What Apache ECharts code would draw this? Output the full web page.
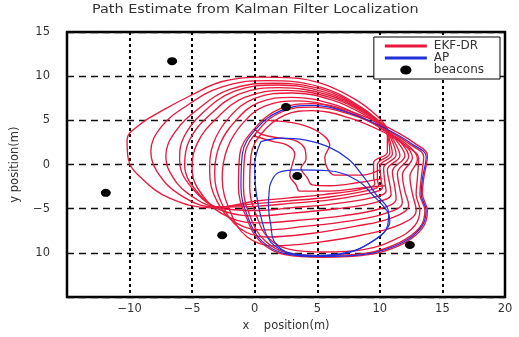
<!DOCTYPE html>
<html>
<head>
<meta charset="utf-8">
<script src="https://cdn.jsdelivr.net/npm/echarts@6/dist/echarts.min.js"></script>
<style>
  html, body { margin: 0; padding: 0; background: #fff; }
  #chart { width: 519px; height: 337px; }
</style>
</head>
<body>
<div id="chart"></div>
<script>
// EKF-DR estimated paths (x, y in metres)
const ekfBand1 = [[10.4,3.6],[12.2,2.0],[13.1,0.7],[13.0,-1.5],[12.9,-3.4],[13.2,-5.1],[12.8,-6.9],[11.3,-8.4],[8.8,-9.6],[5.5,-9.9],[2.8,-9.6],[1.1,-8.3],[0.2,-6],[-0.4,-2.5],[-0.3,1],[0.6,3.6],[2.4,5.6],[4.6,6.1],[7.5,5.3],[10.4,3.6]];
const ekfBand2 = [[10.6,3.9],[12.5,2.2],[13.5,0.9],[13.3,-1.6],[13.2,-3.4],[13.6,-5.2],[13.2,-7.1],[11.6,-8.8],[9,-10],[5.5,-10.3],[2.6,-10],[0.8,-8.6],[-0.3,-6.1],[-0.9,-2.5],[-0.8,1],[0.3,3.9],[2.2,6],[4.6,6.5],[7.6,5.7],[10.6,3.9]];
const ekfBand3 = [[10.8,4.1],[12.8,2.4],[13.8,1.0],[13.5,-1.6],[13.4,-3.3],[13.8,-5.2],[13.4,-7.2],[11.8,-9.0],[9.1,-10.2],[5.4,-10.5],[2.4,-10.2],[0.5,-8.8],[-0.6,-6.2],[-1.3,-2.5],[-1.2,1.1],[0,4.1],[2,6.3],[4.6,6.9],[7.7,6.0],[10.8,4.1]];
const ekfLoop1 = [[10.4,3.8],[12.3,2.1],[13.0,0.6],[12.4,-1.4],[12.6,-3.3],[12.9,-5.2],[11.6,-6.8],[8.5,-8.0],[5,-8.8],[1.5,-9.2],[-0.6,-8.2],[-1.9,-5.5],[-2.6,-1.5],[-2.2,1.8],[-1.0,4.6],[0.8,6.6],[3.5,7.2],[6.5,6.4],[9,5],[10.4,3.8]];
const ekfLoop2 = [[10.3,3.9],[12.0,2.2],[12.6,0.8],[11.8,-1.2],[12.0,-3.0],[12.3,-4.6],[11.0,-6.0],[8,-7.0],[4.5,-7.8],[1,-8.2],[-1.2,-7.2],[-2.6,-4.5],[-3.2,-1.0],[-2.8,2.2],[-1.5,5],[0.3,7.0],[3,7.6],[6.3,6.8],[8.8,5.2],[10.3,3.9]];
const ekfLoop3 = [[10.4,4.0],[11.8,2.3],[12.3,0.9],[11.4,-1.0],[11.6,-2.8],[11.8,-4.3],[10.5,-5.5],[7.5,-6.4],[4,-7.0],[0.8,-7.4],[-1.5,-6.6],[-3.0,-4.2],[-3.6,-0.8],[-3.3,2.4],[-2,5.4],[0,7.5],[3,8.1],[6.2,7.3],[8.8,5.6],[10.4,4.0]];
const ekfLoop4 = [[10.5,4.0],[11.5,2.4],[12.0,1.0],[11.0,-0.8],[11.2,-2.6],[11.3,-3.9],[10,-5.0],[7,-5.8],[3.5,-6.3],[0.5,-6.6],[-2,-6.0],[-4,-3.8],[-5.0,-0.5],[-4.6,2.4],[-3,5.3],[-0.8,7.6],[2.5,8.4],[6,7.6],[8.8,5.8],[10.5,4.0]];
const ekfLoop5 = [[10.5,4.1],[11.2,2.5],[11.6,1.0],[10.6,-0.6],[10.8,-2.3],[10.9,-3.4],[9.6,-4.3],[6.5,-5.0],[3,-5.5],[0.3,-5.8],[-2.2,-5.4],[-4.4,-3.4],[-5.6,0.0],[-5.2,2.8],[-3.6,5.6],[-1.2,8.0],[2,8.7],[5.8,7.9],[8.7,6.0],[10.5,4.1]];
const ekfLoop6 = [[10.4,4.2],[11.0,2.6],[11.3,1.1],[10.3,-0.4],[10.4,-2.0],[10.5,-3.0],[9.2,-3.8],[6,-4.5],[2.8,-4.9],[0.3,-5.2],[-2.5,-5.0],[-4.8,-3.0],[-6.0,0.5],[-5.7,3.0],[-4.2,5.8],[-1.6,8.3],[1.8,9.0],[5.6,8.2],[8.6,6.2],[10.4,4.2]];
const ekfLoop7 = [[10.5,4.2],[10.8,2.7],[11.0,1.2],[10.0,-0.2],[10.1,-1.8],[10.2,-2.6],[9,-3.3],[6,-4.0],[2.8,-4.4],[0.3,-4.7],[-2.8,-4.8],[-5.4,-3.2],[-6.8,-0.8],[-7.1,1.0],[-6.4,3.6],[-4.6,6.2],[-2,8.5],[1.5,9.2],[5.4,8.5],[8.5,6.4],[10.5,4.2]];
const ekfLoop8 = [[10.4,4.3],[10.7,2.8],[10.8,1.3],[9.8,0.0],[9.8,-1.6],[9.9,-2.4],[8.8,-3.0],[5.8,-3.7],[2.8,-4.1],[0.3,-4.4],[-3.2,-4.8],[-6,-3.4],[-7.8,-0.8],[-8.3,1.5],[-7.5,4.2],[-5.5,6.6],[-2.6,8.8],[1,9.5],[5.2,8.8],[8.4,6.6],[10.4,4.3]];
const ekfLoop9 = [[10.6,4.1],[10.6,2.8],[10.6,1.4],[9.5,0.2],[9.5,-1.4],[9.6,-2.2],[8.5,-2.8],[5.5,-3.4],[2.6,-3.8],[0.3,-4.1],[-3.5,-4.9],[-6.8,-3.8],[-9,-1.6],[-10.1,0.6],[-10.2,2.8],[-9.3,4.4],[-7.4,6.1],[-5,7.9],[-2.6,9.4],[0.5,9.9],[3,9.8],[5.5,9.1],[8,7.4],[9.7,5.6],[10.6,4.1]];
const ekfInner1 = [[0.0,4.0],[0.6,3.4],[2,3.0],[3.1,2.8],[4.0,1.8],[4.1,0.6],[3.7,-0.4],[4.2,-1.5],[4.6,-2.3],[6,-2.4],[8.5,-2.0],[10.2,-1.6]];
const ekfInner2 = [[0.0,3.2],[1.5,2.6],[2.6,2.2],[3.2,1.2],[3.0,0.0],[2.8,-1.2],[3.3,-2.3],[3.6,-3.0],[6,-3.0],[8.8,-2.6],[10.4,-2.4]];
const ekfInner3 = [[1,5.0],[3.5,4.6],[5.2,3.6],[6.0,2.2],[5.6,0.8],[5.8,-0.4],[6.4,-1.2],[8.5,-1.2],[10,-0.6]];

// AP paths
const apLoop1 = [[10.7,3.9],[12.6,2.3],[13.7,0.9],[13.4,-1.6],[13.3,-3.4],[13.7,-5.2],[13.3,-7.1],[11.7,-8.9],[9,-10.1],[5.4,-10.4],[2.5,-10.1],[0.6,-8.7],[-0.5,-6.1],[-1.1,-2.5],[-1.0,1.1],[0.1,4.0],[2.1,6.1],[4.6,6.7],[7.6,5.8],[10.7,3.9]];
const apLoop2 = [[0.5,2.6],[2.1,3.0],[4.0,2.8],[5.9,2.0],[7.5,0.6],[8.6,-1.2],[9.6,-3.2],[10.7,-5.5],[10.6,-7.0],[9.5,-8.6],[7.8,-9.8],[5.0,-10.3],[2.8,-10.0],[1.3,-8.8],[0.6,-6.5],[0.1,-3.0],[0.0,0.0],[0.5,2.6]];
const apLoop3 = [[1.2,-2.4],[1.9,-0.9],[3.4,-0.6],[5.9,-0.7],[8.2,-1.8],[9.4,-3.4],[10.6,-5.3],[10.8,-6.4],[10.4,-7.6],[9.3,-8.8],[7.7,-9.9],[5.1,-10.4],[2.9,-10.1],[1.6,-8.8],[1.3,-7.0],[1.1,-4.5],[1.2,-2.4]];

// beacon positions
const beacons = [[-6.6,11.7],[2.5,6.5],[3.4,-1.3],[-11.9,-3.2],[-2.6,-8.0],[12.4,-9.1]];

const ekfPaths = [ekfLoop9, ekfLoop8, ekfLoop7, ekfLoop6, ekfLoop5, ekfLoop4, ekfLoop3, ekfLoop2, ekfLoop1,
                  ekfInner1, ekfInner2, ekfInner3, ekfBand1, ekfBand2, ekfBand3];
const apPaths = [apLoop1, apLoop2, apLoop3];

const RED = '#e8193c';
const BLUE = '#2230d8';
const font = 'DejaVu Sans';

const chart = echarts.init(document.getElementById('chart'), null, { renderer: 'canvas' });

const series = [];
ekfPaths.forEach(function (p) {
    series.push({
        name: 'EKF-DR', type: 'line', data: p, smooth: 0.4, showSymbol: false, symbol: 'none',
        lineStyle: { color: RED, width: 1.35 }, itemStyle: { color: RED }, z: 2
    });
});
apPaths.forEach(function (p) {
    series.push({
        name: 'AP', type: 'line', data: p, smooth: 0.4, showSymbol: false, symbol: 'none',
        lineStyle: { color: BLUE, width: 1.2 }, itemStyle: { color: BLUE }, z: 3
    });
});
series.push({
    name: 'beacons', type: 'scatter', data: beacons,
    symbol: 'path://M-5,0a5,4 0 1,0 10,0a5,4 0 1,0 -10,0z', symbolSize: [10, 8], symbolKeepAspect: false,
    itemStyle: { color: '#000', opacity: 1 }, z: 5
});

const minus = function (v) { return String(v).replace('-', '\u2212'); };

chart.setOption({
    backgroundColor: '#fff',
    animation: false,
    graphic: [{
        type: 'text', left: 92, top: 4, scaleX: 1.2,
        style: { text: 'Path Estimate from Kalman Filter Localization', font: '12px "DejaVu Sans"', fill: '#333' }
    }],
    legend: {
        orient: 'vertical', right: 19, top: 37,
        backgroundColor: '#fff', borderColor: '#000', borderWidth: 1, borderRadius: 0,
        padding: [3, 16, 3, 11], itemGap: 0, itemWidth: 42, itemHeight: 9,
        textStyle: { fontFamily: font, fontSize: 12, lineHeight: 12, color: '#333', padding: [0, 0, 0, 2] },
        data: [
            { name: 'EKF-DR', icon: 'path://M0,0H42V3H0Z' },
            { name: 'AP', icon: 'path://M0,0H42V3H0Z' },
            { name: 'beacons' }
        ]
    },
    grid: {
        left: 67, right: 14, top: 32, bottom: 37,
        show: true, borderColor: '#000', borderWidth: 2.5, backgroundColor: 'transparent'
    },
    xAxis: {
        type: 'value', min: -15, max: 20, interval: 5,
        name: 'x    position(m)', nameLocation: 'middle', nameGap: 20,
        nameTextStyle: { fontFamily: font, fontSize: 11.5, color: '#333' },
        axisLine: { show: false }, axisTick: { show: false },
        axisLabel: { showMinLabel: false, margin: 6, fontFamily: font, fontSize: 11.5, color: '#333', formatter: minus },
        splitLine: { show: true, lineStyle: { color: '#000', width: 2, type: [3, 3] } }
    },
    yAxis: {
        type: 'value', min: -15, max: 15, interval: 5,
        name: 'y position(m)', nameLocation: 'middle', nameGap: 46,
        nameTextStyle: { fontFamily: font, fontSize: 11.5, color: '#333' },
        axisLine: { show: false }, axisTick: { show: false },
        axisLabel: {
            showMinLabel: false, margin: 17, fontFamily: font, fontSize: 11.5, color: '#333',
            formatter: function (v) { return v === -10 ? '10' : minus(v); }
        },
        splitLine: { show: true, lineStyle: { color: '#111', width: 1.3, type: [7, 5] } }
    },
    series: series
});
</script>
</body>
</html>
